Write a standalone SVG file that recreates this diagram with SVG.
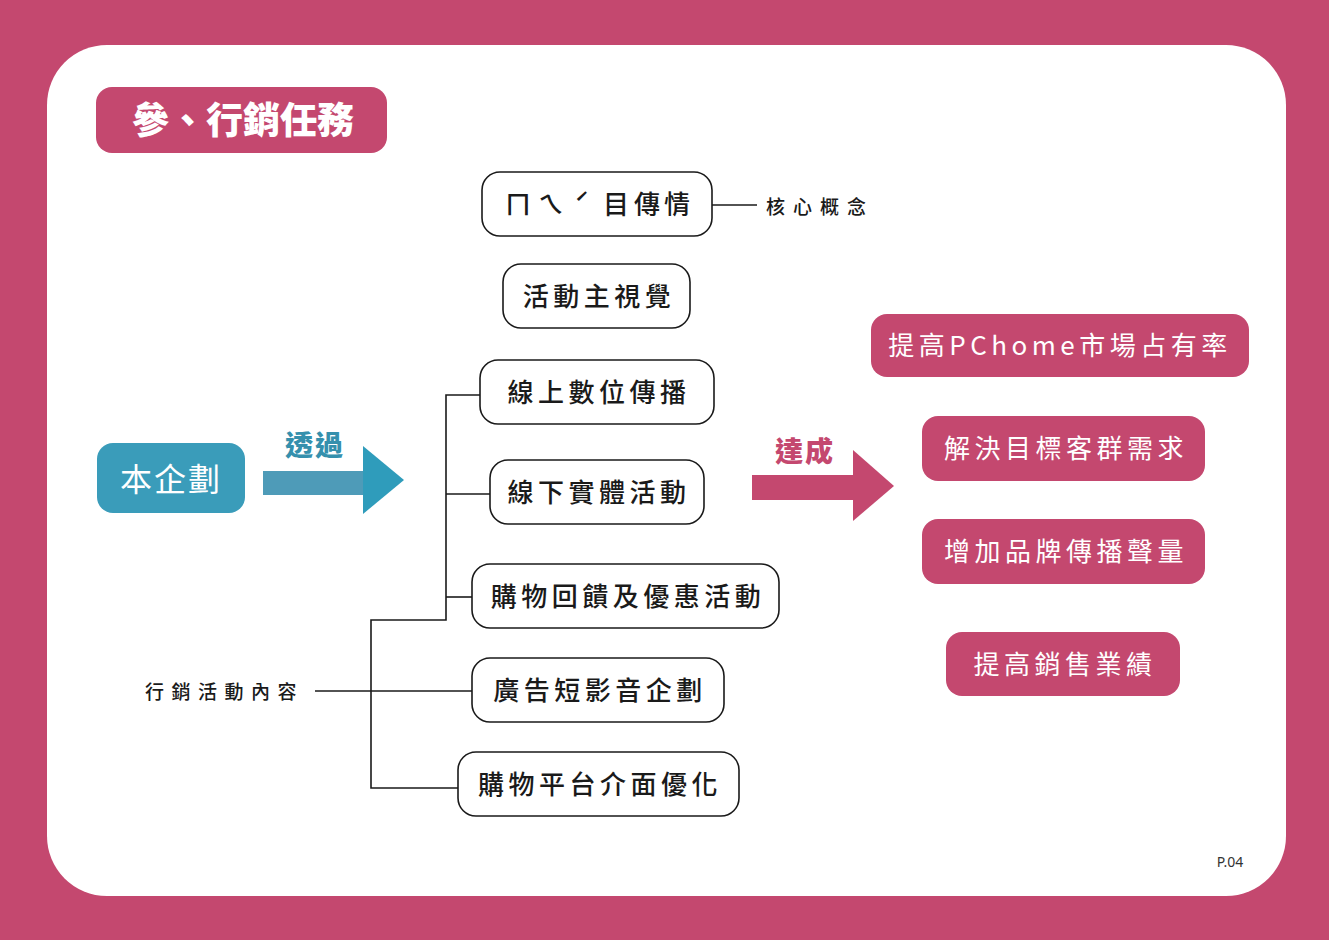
<svg xmlns="http://www.w3.org/2000/svg" width="1329" height="940" viewBox="0 0 1329 940">
<style>
.node rect{fill:#fff;stroke:#1a1a1a;stroke-width:1.6}
.node text{font-family:"Noto Sans CJK TC","Noto Sans",sans-serif;font-size:26px;font-weight:500;fill:#1a1a1a;letter-spacing:4.5px;text-anchor:middle}
.goal rect{fill:#c4486f}
.goal text{font-family:"Noto Sans CJK TC","Noto Sans",sans-serif;font-size:26px;font-weight:400;fill:#fff;letter-spacing:4.5px;text-anchor:middle}
.lbl{font-family:"Noto Sans CJK TC","Noto Sans",sans-serif;font-size:19px;font-weight:500;fill:#1a1a1a}
.conn{fill:none;stroke:#1a1a1a;stroke-width:1.6}
</style>
<rect x="0" y="0" width="1329" height="940" fill="#c4486f"/>
<rect x="47" y="45" width="1239" height="851" rx="60" fill="#fff"/>
<g id="title">
<rect x="96" y="87" width="291" height="66" rx="16" fill="#c4486f"/>
<text x="243" y="134" font-family="Noto Sans CJK TC, sans-serif" font-size="37" font-weight="900" fill="#fff" text-anchor="middle">參、行銷任務</text>
</g>
<g id="connectors">
<path class="conn" d="M712 205H757"/>
<path class="conn" d="M480 395H446V620H371V788H458"/>
<path class="conn" d="M446 494H490"/>
<path class="conn" d="M446 597H472"/>
<path class="conn" d="M315 691H472"/>
</g>
<g id="label-core"><text class="lbl" x="766" y="214" letter-spacing="8">核心概念</text></g>
<g id="label-content"><text class="lbl" x="145" y="699" letter-spacing="7.5">行銷活動內容</text></g>
<g id="n1" class="node"><rect x="482" y="172" width="230" height="64" rx="18"/><text style="text-anchor:start;letter-spacing:0" y="214"><tspan x="505">ㄇ</tspan><tspan x="538">ㄟ</tspan><tspan x="574">ˊ</tspan><tspan x="603">目</tspan><tspan x="634">傳</tspan><tspan x="664">情</tspan></text></g>
<g id="n2" class="node"><rect x="503" y="264" width="187" height="64" rx="18"/><text x="599" y="306">活動主視覺</text></g>
<g id="n3" class="node"><rect x="480" y="360" width="234" height="64" rx="18"/><text x="599" y="402">線上數位傳播</text></g>
<g id="n4" class="node"><rect x="490" y="460" width="214" height="64" rx="18"/><text x="599" y="502">線下實體活動</text></g>
<g id="n5" class="node"><rect x="472" y="564" width="307" height="64" rx="18"/><text x="628" y="606">購物回饋及優惠活動</text></g>
<g id="n6" class="node"><rect x="472" y="658" width="252" height="64" rx="18"/><text x="600" y="700">廣告短影音企劃</text></g>
<g id="n7" class="node"><rect x="458" y="752" width="281" height="64" rx="18"/><text x="600" y="794">購物平台介面優化</text></g>
<g id="plan">
<rect x="97" y="443" width="148" height="70" rx="16" fill="#3a9cba"/>
<text x="171" y="491" font-family="Noto Sans CJK TC, sans-serif" font-size="32" font-weight="400" fill="#fff" text-anchor="middle" letter-spacing="2">本企劃</text>
</g>
<g id="arrow-through">
<rect x="263" y="471" width="101" height="24" fill="#4e9bb8"/>
<polygon points="363,446 404,480 363,514" fill="#2f9cbb"/>
<text x="315" y="456" font-family="Noto Sans CJK TC, sans-serif" font-size="28" font-weight="900" fill="#3590ad" text-anchor="middle" letter-spacing="2">透過</text>
</g>
<g id="arrow-achieve">
<rect x="752" y="475" width="102" height="25" fill="#c4486f"/>
<polygon points="853,450 894,486 853,521" fill="#c4486f"/>
<text x="805" y="462" font-family="Noto Sans CJK TC, sans-serif" font-size="28" font-weight="900" fill="#c4486f" text-anchor="middle" letter-spacing="2">達成</text>
</g>
<g id="g1" class="goal"><rect x="871" y="314" width="378" height="63" rx="16"/><text x="1060" y="355">提高PChome市場占有率</text></g>
<g id="g2" class="goal"><rect x="922" y="416" width="283" height="65" rx="16"/><text x="1066" y="458">解決目標客群需求</text></g>
<g id="g3" class="goal"><rect x="922" y="519" width="283" height="65" rx="16"/><text x="1066" y="561">增加品牌傳播聲量</text></g>
<g id="g4" class="goal"><rect x="946" y="632" width="234" height="64" rx="16"/><text x="1065" y="674">提高銷售業績</text></g>
<text x="1230" y="867" font-family="Noto Sans, sans-serif" font-size="14" fill="#333" text-anchor="middle">P.04</text>
</svg>
